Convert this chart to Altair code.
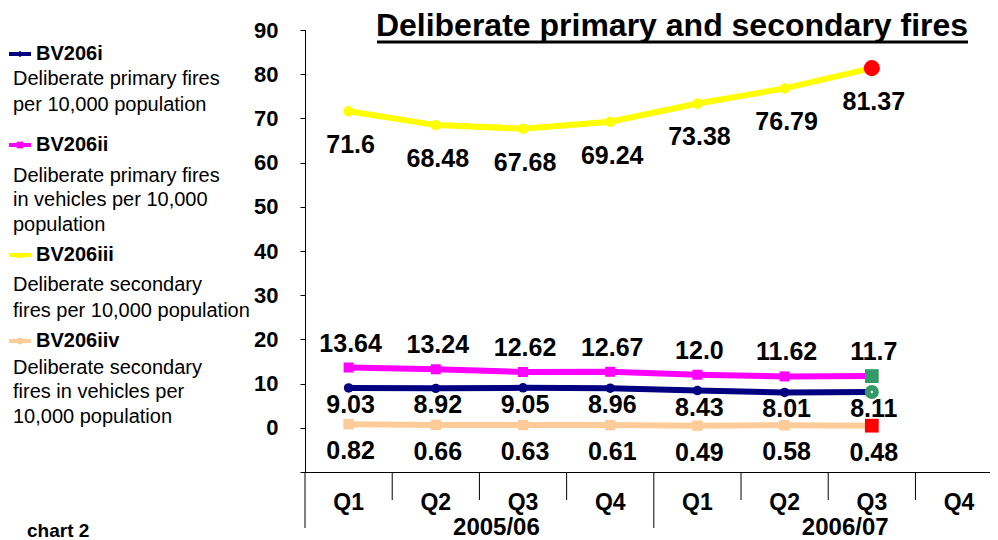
import altair as alt
import pandas as pd

# ---------------- data ----------------
quarters = ["Q1", "Q2", "Q3", "Q4", "Q1", "Q2", "Q3", "Q4"]
years = ["2005/06", "2006/07"]
year_centers = [1.5, 5.5]
bv206i = [9.03, 8.92, 9.05, 8.96, 8.43, 8.01, 8.11]
bv206ii = [13.64, 13.24, 12.62, 12.67, 12.0, 11.62, 11.7]
bv206iii = [71.6, 68.48, 67.68, 69.24, 73.38, 76.79, 81.37]
bv206iv = [0.82, 0.66, 0.63, 0.61, 0.49, 0.58, 0.48]
y_ticks = [90, 80, 70, 60, 50, 40, 30, 20, 10, 0, -10]
inner_seps = [0.5, 1.5, 2.5, 4.5, 5.5, 6.5]
group_seps = [-0.5, 3.5]

FONT = "Liberation Sans"
W, H = 685, 442

xscale = alt.Scale(domain=[-0.5, 7.355], nice=False, zero=False)
yscale = alt.Scale(domain=[-10, 90], nice=False, zero=False)
xaxis = alt.Axis(labels=False, ticks=False, grid=False, title=None,
                 domainColor="black", domainWidth=1)
yaxis = alt.Axis(values=y_ticks, grid=False, title=None, domainColor="black",
                 tickColor="black", tickSize=5, labelPadding=22,
                 labelFont=FONT, labelFontSize=22, labelFontWeight="bold",
                 labelColor="black",
                 labelExpr="datum.value < 0 ? '' : datum.label")


def X(f="i"):
    return alt.X(f"{f}:Q", scale=xscale, axis=xaxis)


def Y(f="v"):
    return alt.Y(f"{f}:Q", scale=yscale, axis=yaxis)


def series_df(vals):
    return pd.DataFrame({"i": list(range(len(vals))), "v": vals,
                         "lab": [str(v) for v in vals]})


series = [
    # values, color, shape, point size, label dy, highlight color, highlight shape
    (bv206iii, "#FFFF00", "circle", 110, 34, "#FF0000", "circle", 260),
    (bv206ii, "#FF00FF", "square", 100, -24, "#339966", "square", 190),
    (bv206i, "#000080", "circle", 90, 17, "#339966", "circle", 200),
    (bv206iv, "#FFCC99", "square", 110, 27, "#FF0000", "square", 190),
]

layers = []
for vals, col, shp, sz, dy, hcol, hshp, hsz in series:
    df = series_df(vals)
    base = alt.Chart(df)
    layers.append(base.mark_line(color=col, strokeWidth=6).encode(x=X(), y=Y()))
    layers.append(base.mark_point(color=col, shape=shp, size=sz, filled=True,
                                  opacity=1).encode(x=X(), y=Y()))
    layers.append(base.mark_text(font=FONT, fontSize=25, fontWeight="bold",
                                 color="black", baseline="middle", dx=2, dy=dy)
                  .encode(x=X(), y=Y(), text="lab:N"))
    last = df.iloc[[-1]]
    layers.append(alt.Chart(last).mark_point(color=hcol, shape=hshp, size=hsz,
                                             filled=True, opacity=1)
                  .encode(x=X(), y=Y()))

# small white centre dot on the navy highlight marker
layers.append(alt.Chart(series_df(bv206i).iloc[[-1]]).mark_point(
    color="white", shape="circle", size=6, filled=True, opacity=1)
    .encode(x=X(), y=Y()))

# x category axis decorations
layers.append(alt.Chart(pd.DataFrame({"i": inner_seps})).mark_rule(
    color="black", strokeWidth=1).encode(x=X(), y=alt.value(H), y2=alt.value(H + 28)))
layers.append(alt.Chart(pd.DataFrame({"i": group_seps})).mark_rule(
    color="black", strokeWidth=1).encode(x=X(), y=alt.value(H), y2=alt.value(H + 56)))
layers.append(alt.Chart(pd.DataFrame({"i": list(range(8)), "q": quarters})).mark_text(
    font=FONT, fontSize=23, fontWeight="bold", color="black", baseline="middle")
    .encode(x=X(), y=alt.value(H + 31), text="q:N"))
layers.append(alt.Chart(pd.DataFrame({"i": year_centers, "t": years})).mark_text(
    font=FONT, fontSize=24, fontWeight="bold", color="black", baseline="middle", dx=17)
    .encode(x=X(), y=alt.value(H + 56), text="t:N"))

one = pd.DataFrame({"a": [0]})


def txt(s, x, y, size=20, bold=False, align="left"):
    return alt.Chart(one).mark_text(text=s, font=FONT, fontSize=size,
                                    fontWeight="bold" if bold else "normal",
                                    color="black", align=align, baseline="middle"
                                    ).encode(x=alt.value(x), y=alt.value(y))


# title
layers.append(txt("Deliberate primary and secondary fires", 367, -4, size=32,
                  bold=True, align="center"))
layers.append(alt.Chart(one).mark_rule(color="black", strokeWidth=3).encode(
    x=alt.value(72), x2=alt.value(663), y=alt.value(12)))

# custom legend
legend = [
    ("BV206i", "#000080", "diamond", 24,
     [("Deliberate primary fires", 49), ("per 10,000 population", 75)]),
    ("BV206ii", "#FF00FF", "square", 115,
     [("Deliberate primary fires", 146), ("in vehicles per 10,000", 170),
      ("population", 195)]),
    ("BV206iii", "#FFFF00", "triangle-up", 225,
     [("Deliberate secondary", 255), ("fires per 10,000 population", 281)]),
    ("BV206iiv", "#FFCC99", "circle", 311,
     [("Deliberate secondary", 338), ("fires in vehicles per", 362),
      ("10,000 population", 387)]),
]
for key, col, shp, ly, lines in legend:
    layers.append(alt.Chart(one).mark_rule(color=col, strokeWidth=4).encode(
        x=alt.value(-296), x2=alt.value(-274), y=alt.value(ly)))
    layers.append(alt.Chart(one).mark_point(color=col, shape=shp, size=45,
                                            filled=True, opacity=1).encode(
        x=alt.value(-285), y=alt.value(ly)))
    layers.append(txt(key, -269, ly, size=20, bold=True))
    for s, yy in lines:
        layers.append(txt(s, -292, yy, size=20))

layers.append(txt("chart 2", -278, 501, size=19, bold=True))

chart = alt.layer(*layers).properties(
    width=W, height=H,
    autosize=alt.AutoSizeParams(type="none"),
    padding={"left": 297, "top": 22, "right": 0, "bottom": 68},
).configure_view(stroke=None).configure_axis(grid=False)

chart.save("out.html", embed_options={"renderer": "svg", "actions": False})
